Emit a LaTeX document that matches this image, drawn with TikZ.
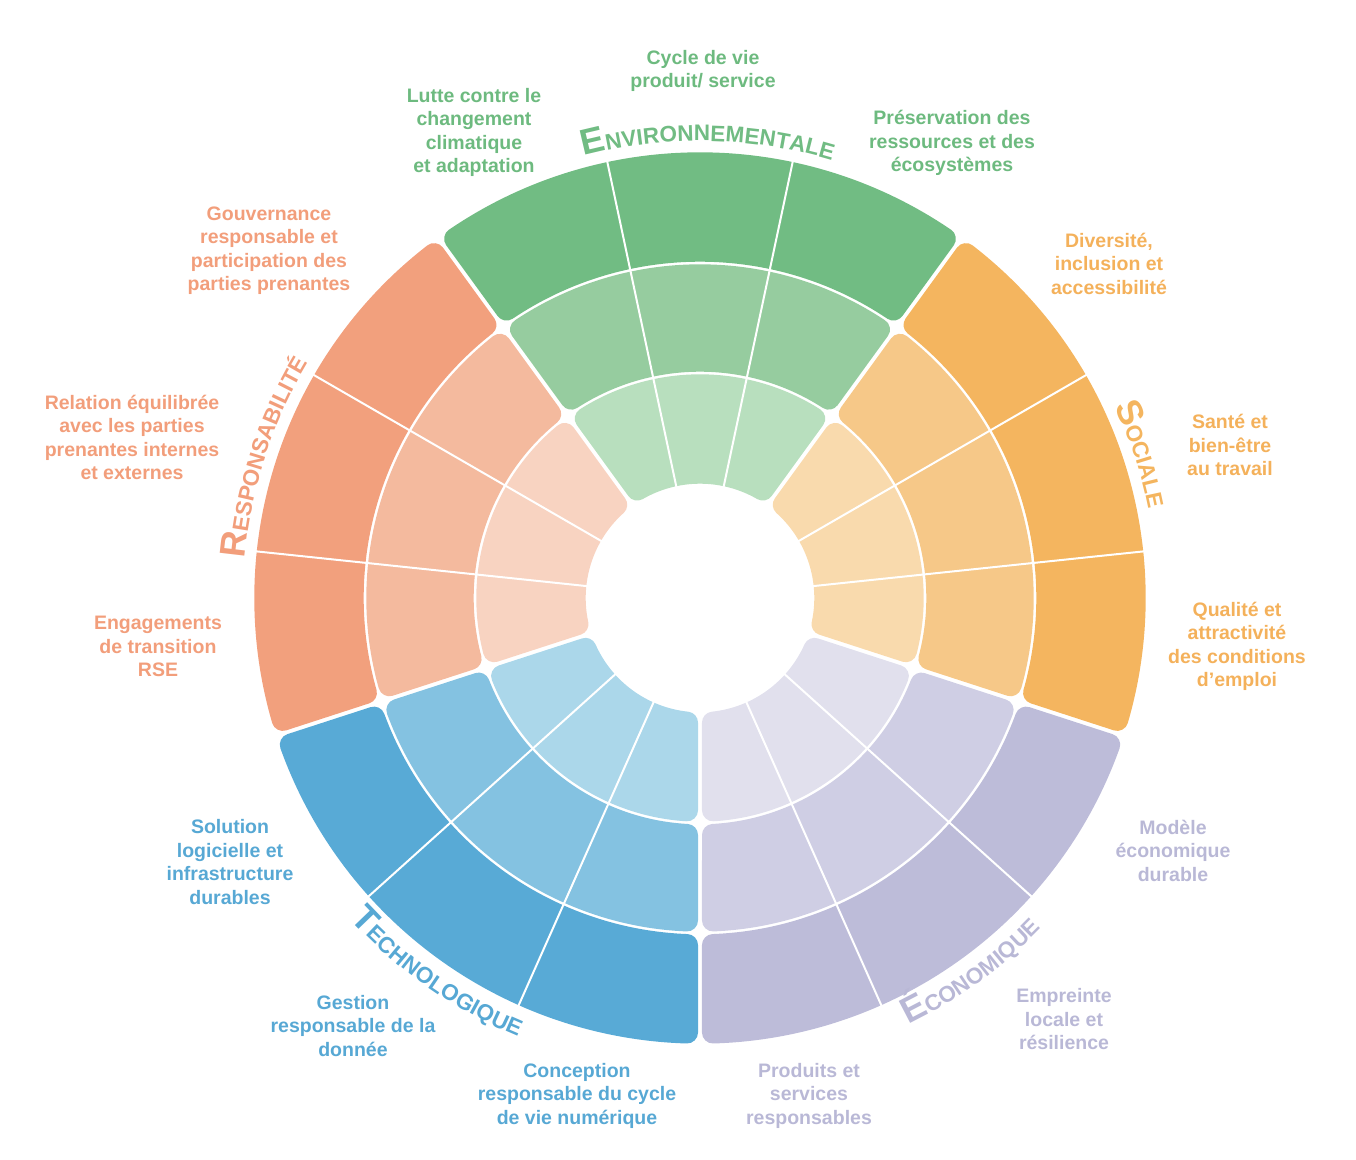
\documentclass[tikz,border=0pt]{standalone}
\usepackage{fontspec}
\setmainfont{Liberation Sans}
\usetikzlibrary{decorations.text}
\definecolor{g1}{HTML}{B8DFBE}\definecolor{g2}{HTML}{96CC9F}\definecolor{g3}{HTML}{71BC83}
\definecolor{o1}{HTML}{F9DAAD}\definecolor{o2}{HTML}{F6C888}\definecolor{o3}{HTML}{F4B55F}
\definecolor{p1}{HTML}{E1E0ED}\definecolor{p2}{HTML}{CFCEE4}\definecolor{p3}{HTML}{BDBCD9}
\definecolor{b1}{HTML}{ABD7EA}\definecolor{b2}{HTML}{84C2E1}\definecolor{b3}{HTML}{58AAD6}
\definecolor{s1}{HTML}{F8D3C1}\definecolor{s2}{HTML}{F4BA9E}\definecolor{s3}{HTML}{F2A07D}
\definecolor{gt}{HTML}{6DBA7F}\definecolor{ot}{HTML}{F4B15B}\definecolor{pt}{HTML}{B9B8D6}
\definecolor{bt}{HTML}{57A8D4}\definecolor{st}{HTML}{F29E7B}
\tikzset{
  lab/.style={align=center, font=\bfseries\fontsize{19.5}{23.5}\selectfont},
  cell/.style={line width=22pt, line join=round},
  divider/.style={white, line width=2pt}
}
\begin{document}
\begin{tikzpicture}[x=1pt,y=1pt]
\useasboundingbox (-700,-561) rectangle (656,598);
\def\hg{2}\def\hr{1.3}\def\rr{11}
\foreach \a/\ca/\cb/\cc in {54/g1/g2/g3,126/s1/s2/s3,198/b1/b2/b3,270/p1/p2/p3,342/o1/o2/o3}{
  \foreach \ri/\ro/\col in {113/225/\ca,225/335/\cb,335/447/\cc}{
    \pgfmathsetmacro\rA{\ri+\hr+\rr}
    \pgfmathsetmacro\rB{\ro-\hr-\rr}
    \pgfmathsetmacro\dA{asin((\hg+\rr)/\rA)}
    \pgfmathsetmacro\dB{asin((\hg+\rr)/\rB)}
    \pgfmathsetmacro\sA{\a+\dA}
    \pgfmathsetmacro\eA{\a+72-\dA}
    \pgfmathsetmacro\sB{\a+72-\dB}
    \pgfmathsetmacro\eB{\a+\dB}
    \filldraw[cell, fill=\col, draw=\col]
      (\sA:\rA pt) arc[start angle=\sA, end angle=\eA, radius=\rA pt]
      -- (\sB:\rB pt) arc[start angle=\sB, end angle=\eB, radius=\rB pt] -- cycle;
    \foreach \k in {24,48}{
      \pgfmathsetmacro\dv{\a+\k}
      \draw[divider] (\dv:\ri pt) -- (\dv:\ro pt);
    }
  }
}
% curved sector titles
\path[decorate, decoration={text along path, text align=center,
  text={|\color{g3}\bfseries\fontsize{36}{36}\selectfont|E|\color{g3}\bfseries\fontsize{22.5}{22.5}\selectfont|NVIRONNEMENTALE}}]
  (119:457pt) arc[start angle=119, end angle=59, radius=457pt];
\path[decorate, decoration={text along path, text align=center,
  text={|\color{o3}\bfseries\fontsize{36}{36}\selectfont|S|\color{o3}\bfseries\fontsize{22.5}{22.5}\selectfont|OCIALE}}]
  (48:457pt) arc[start angle=48, end angle=-12, radius=457pt];
\path[decorate, decoration={text along path, text align=center,
  text={|\color{st}\bfseries\fontsize{36}{36}\selectfont|R|\color{st}\bfseries\fontsize{22.5}{22.5}\selectfont|ESPONSABILITÉ}}]
  (192:457pt) arc[start angle=192, end angle=132, radius=457pt];
\path[decorate, decoration={text along path, text align=center,
  text={|\color{pt}\bfseries\fontsize{36}{36}\selectfont|É|\color{pt}\bfseries\fontsize{22.5}{22.5}\selectfont|CONOMIQUE}}]
  (276:475pt) arc[start angle=276, end angle=336, radius=475pt];
\path[decorate, decoration={text along path, text align=center,
  text={|\color{bt}\bfseries\fontsize{36}{36}\selectfont|T|\color{bt}\bfseries\fontsize{22.5}{22.5}\selectfont|ECHNOLOGIQUE}}]
  (205:475pt) arc[start angle=205, end angle=265, radius=475pt];
% labels
\node[lab, text=gt] (lutte) at (-226,465.5) {Lutte contre le\\changement\\climatique\\et adaptation};
\node[lab, text=gt] (cycle) at (3,527) {Cycle de vie\\produit/ service};
\node[lab, text=gt] (preserv) at (252,455) {Préservation des\\ressources et des\\écosystèmes};
\node[lab, text=ot] (divers) at (409,334.3) {Diversité,\\inclusion et\\accessibilité};
\node[lab, text=ot] (sante) at (530,152.7) {Santé et\\bien-être\\au travail};
\node[lab, text=ot] (qualite) at (537,-48.5) {Qualité et\\attractivité\\des conditions\\d’emploi};
\node[lab, text=pt] (modele) at (473,-252.7) {Modèle\\économique\\durable};
\node[lab, text=pt] (empreinte) at (364,-421.3) {Empreinte\\locale et\\résilience};
\node[lab, text=pt] (produits) at (109,-497.7) {Produits et\\services\\responsables};
\node[lab, text=bt] (conception) at (-123,-497.7) {Conception\\responsable du cycle\\de vie numérique};
\node[lab, text=bt] (gestion) at (-347,-428) {Gestion\\responsable de la\\donnée};
\node[lab, text=bt] (solution) at (-470,-264) {Solution\\logicielle et\\infrastructure\\durables};
\node[lab, text=st] (engag) at (-542,-48.7) {Engagements\\de transition\\RSE};
\node[lab, text=st] (relation) at (-568,160.5) {Relation équilibrée\\avec les parties\\prenantes internes\\et externes};
\node[lab, text=st] (gouv) at (-431,347.5) {Gouvernance\\responsable et\\participation des\\parties prenantes};
\end{tikzpicture}
\end{document}
